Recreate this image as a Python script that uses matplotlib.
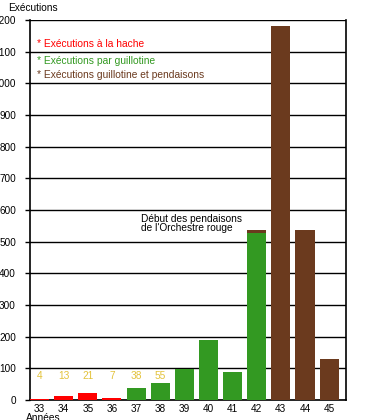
import matplotlib.pyplot as plt
import numpy as np

plt.rcParams["font.family"] = ["Liberation Sans", "DejaVu Sans"]

# Years and executions per year
years = ["33", "34", "35", "36", "37", "38", "39", "40", "41", "42", "43", "44", "45"]
hache = [4, 13, 21, 7, 0, 0, 0, 0, 0, 0, 0, 0, 0]
guillotine = [0, 0, 0, 0, 38, 55, 97, 190, 87, 527, 0, 0, 0]
pendaisons = [0, 0, 0, 0, 0, 0, 0, 0, 0, 9, 1180, 536, 131]
small_labels = ["4", "13", "21", "7", "38", "55"]

RED = "#ff0000"
GREEN = "#339922"
BROWN = "#6b3a1e"
YELLOW = "#e3c23a"

fig = plt.figure(figsize=(3.65, 4.2), dpi=100)
ax = fig.add_axes([30 / 365, 20 / 420, 316 / 365, 380 / 420])

x = np.arange(len(years))
w = 0.79
ax.bar(x, hache, width=w, color=RED, zorder=3)
ax.bar(x, guillotine, width=w, bottom=hache, color=GREEN, zorder=3)
bottom2 = np.array(hache) + np.array(guillotine)
ax.bar(x, pendaisons, width=w, bottom=bottom2, color=BROWN, zorder=3)

# small values written above the short bars
for i, lab in enumerate(small_labels):
    ax.text(x[i], 76, lab, color=YELLOW, fontsize=7.3, ha="center", va="center")

ax.set_xlim(-0.395, 12.7)
ax.set_ylim(0, 1200)
ax.set_yticks(np.arange(0, 1201, 100))
ax.set_xticks(x)
ax.set_xticklabels(years)
ax.yaxis.grid(True, color="black", linewidth=1)
ax.set_axisbelow(True)
ax.tick_params(axis="y", length=3.6, width=1, pad=6.5, labelsize=7.2)
ax.tick_params(axis="x", length=0, pad=3, labelsize=7.2)
for s in ax.spines.values():
    s.set_linewidth(1.2)
ax.spines["top"].set_visible(False)

fig.text(8 / 365, 1 - 8 / 420, "Exécutions", fontsize=7.3, va="center")
fig.text(26 / 365, 1 - 418 / 420, "Années", fontsize=7.3, va="center")

ax.text(0.022, 1123, "* Exécutions à la hache", color=RED, fontsize=7.4,
        va="center", transform=ax.get_yaxis_transform())
ax.text(0.022, 1072, "* Exécutions par guillotine", color=GREEN, fontsize=7.4,
        va="center", transform=ax.get_yaxis_transform())
ax.text(0.022, 1025, "* Exécutions guillotine et pendaisons", color=BROWN,
        fontsize=7.4, va="center", transform=ax.get_yaxis_transform())

ax.text(4.2, 557, "Début des pendaisons\nde l'Orchestre rouge", fontsize=7.3,
        va="center", linespacing=0.9)

fig.savefig("out.png", dpi=100)
